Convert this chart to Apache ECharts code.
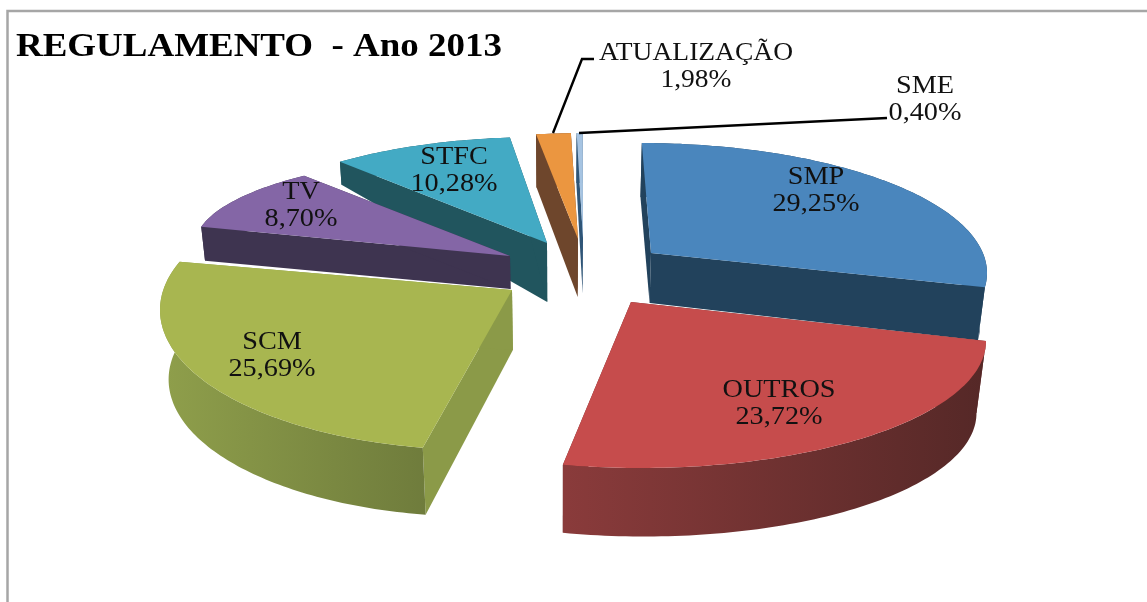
<!DOCTYPE html>
<html>
<head>
<meta charset="utf-8">
<title>Regulamento 2013</title>
<style>
  html, body { margin: 0; padding: 0; background: #fff; }
  #chart { width: 1147px; height: 602px; }
</style>
<script src="https://cdn.jsdelivr.net/npm/echarts@6/dist/echarts.min.js"></script>
</head>
<body>
<div id="chart"></div>
<script>
// data
const chartTitle = 'REGULAMENTO  - Ano 2013';
const categories = ['SMP', 'OUTROS', 'SCM', 'TV', 'STFC', 'ATUALIZAÇÃO', 'SME'];
const values = [29.25, 23.72, 25.69, 8.70, 10.28, 1.98, 0.40];

// colours
const topColors = ['#4a86bd', '#c64c4c', '#a8b650', '#8466a6', '#43aac4', '#eb9640', '#a6c4e2'];
const sideColors = ['#22425c', '#6a2e2e', '#8b9a48', '#3e3450', '#21555e', '#6e462c', '#2f5577'];
const wallLeft = ['#22425c', '#8a3b3b', '#8f9f4b', '#3e3450', '#21555e', '#6e462c', '#2f5577'];
const wallRight = ['#22425c', '#552827', '#6f7c3c', '#3e3450', '#21555e', '#6e462c', '#2f5577'];

// Excel style 3D layout, one entry per slice
const apexX = [651, 631, 512, 510, 547, 578, 583];
const apexY = [253, 302, 290, 256, 243, 239, 238];
const arcX = [640, 640, 480, 505, 540, 585, 585];
const arcY = [273, 341, 310, 245, 250, 245, 245];
const arcRx = [347, 346, 320, 310, 320, 320, 320];
const arcRy = [130, 127, 140, 91, 113, 112, 112];
const arcStart = [0.3, 90, 190.3, 281.5, 321.3, 351.2, 358.5];
const arcStretch = [0.912, 1.205, 1.08, 1.217, 0.9, 0.88, 0.75];
const depthStart = [54, 72, 67, 34, 23, 53, 50];
const depthEnd = [53, 68, 70, 34, 23, 53, 50];
const depthApex = [50, 58, 60, 33, 59, 58, 55];
const vanishX = 560;
const vanishK = 0.00031;

const labelX = [816, 779, 272, 301, 454, 696, 925];
const labelY = [191, 404, 356, 206, 171, 67, 100];
const labelScale = [1.13, 1.13, 1.13, 1.13, 1.13, 1.1, 1.13];
const leaders = {
  5: [[553, 133], [582, 59], [594, 59]],
  6: [[579, 133], [887, 118]]
};
const drawOrder = [6, 5, 4, 3, 0, 2, 1];

const total = values.reduce((a, b) => a + b, 0);

function percentText(v) {
  return v.toFixed(2).replace('.', ',') + '%';
}

function dropPoint(p, d) {
  return [p[0] + (vanishX - p[0]) * vanishK * d, p[1] + d];
}

function renderSlice(params, api) {
  const i = api.value(0);
  const sweep = api.value(1) / total * 360;
  const apex = [apexX[i], apexY[i]];
  const arc = [];
  const wallBottom = [];
  const steps = Math.max(4, Math.ceil(sweep));
  for (let s = 0; s <= steps; s++) {
    const f = s / steps;
    const a = (arcStart[i] + arcStretch[i] * sweep * f) * Math.PI / 180;
    const p = [arcX[i] + arcRx[i] * Math.sin(a), arcY[i] - arcRy[i] * Math.cos(a)];
    arc.push(p);
    wallBottom.push(dropPoint(p, depthStart[i] + (depthEnd[i] - depthStart[i]) * f));
  }
  const first = arc[0];
  const last = arc[steps];
  const apexBottom = dropPoint(apex, depthApex[i]);
  const children = [
    {
      type: 'polygon',
      shape: { points: [apex, first, wallBottom[0], apexBottom] },
      style: { fill: sideColors[i] }
    },
    {
      type: 'polygon',
      shape: { points: [apex, last, wallBottom[steps], apexBottom] },
      style: { fill: sideColors[i] }
    },
    {
      type: 'polygon',
      shape: { points: arc.concat(wallBottom.slice().reverse()) },
      style: {
        fill: new echarts.graphic.LinearGradient(0, 0, 1, 0, [
          { offset: 0, color: wallLeft[i] },
          { offset: 1, color: wallRight[i] }
        ])
      }
    },
    {
      type: 'polygon',
      shape: { points: [apex].concat(arc) },
      style: { fill: topColors[i] }
    }
  ];
  if (leaders[i]) {
    children.push({
      type: 'polyline',
      shape: { points: leaders[i] },
      style: { stroke: '#000', lineWidth: 2.4, fill: null }
    });
  }
  children.push({
    type: 'text',
    x: labelX[i],
    y: labelY[i],
    scaleX: labelScale[i],
    style: {
      text: categories[i] + '\n' + percentText(api.value(1)),
      fontFamily: 'Liberation Serif',
      fontSize: 25,
      lineHeight: 27,
      align: 'center',
      verticalAlign: 'middle',
      fill: '#111'
    }
  });
  return { type: 'group', children: children };
}

const chart = echarts.init(document.getElementById('chart'));
chart.setOption({
  animation: false,
  backgroundColor: '#fff',
  graphic: [{
    type: 'rect',
    shape: { x: 7.5, y: 11, width: 1300, height: 800 },
    style: { fill: null, stroke: '#a6a6a6', lineWidth: 2.5 },
    silent: true
  }, {
    type: 'text',
    x: 16,
    y: 47,
    scaleX: 1.12,
    silent: true,
    style: {
      text: chartTitle,
      fontFamily: 'Liberation Serif',
      fontWeight: 'bold',
      fontSize: 33,
      align: 'left',
      verticalAlign: 'middle',
      fill: '#000'
    }
  }],
  series: [{
    type: 'custom',
    coordinateSystem: 'none',
    renderItem: renderSlice,
    data: drawOrder.map(i => [i, values[i]])
  }]
});
</script>
</body>
</html>
